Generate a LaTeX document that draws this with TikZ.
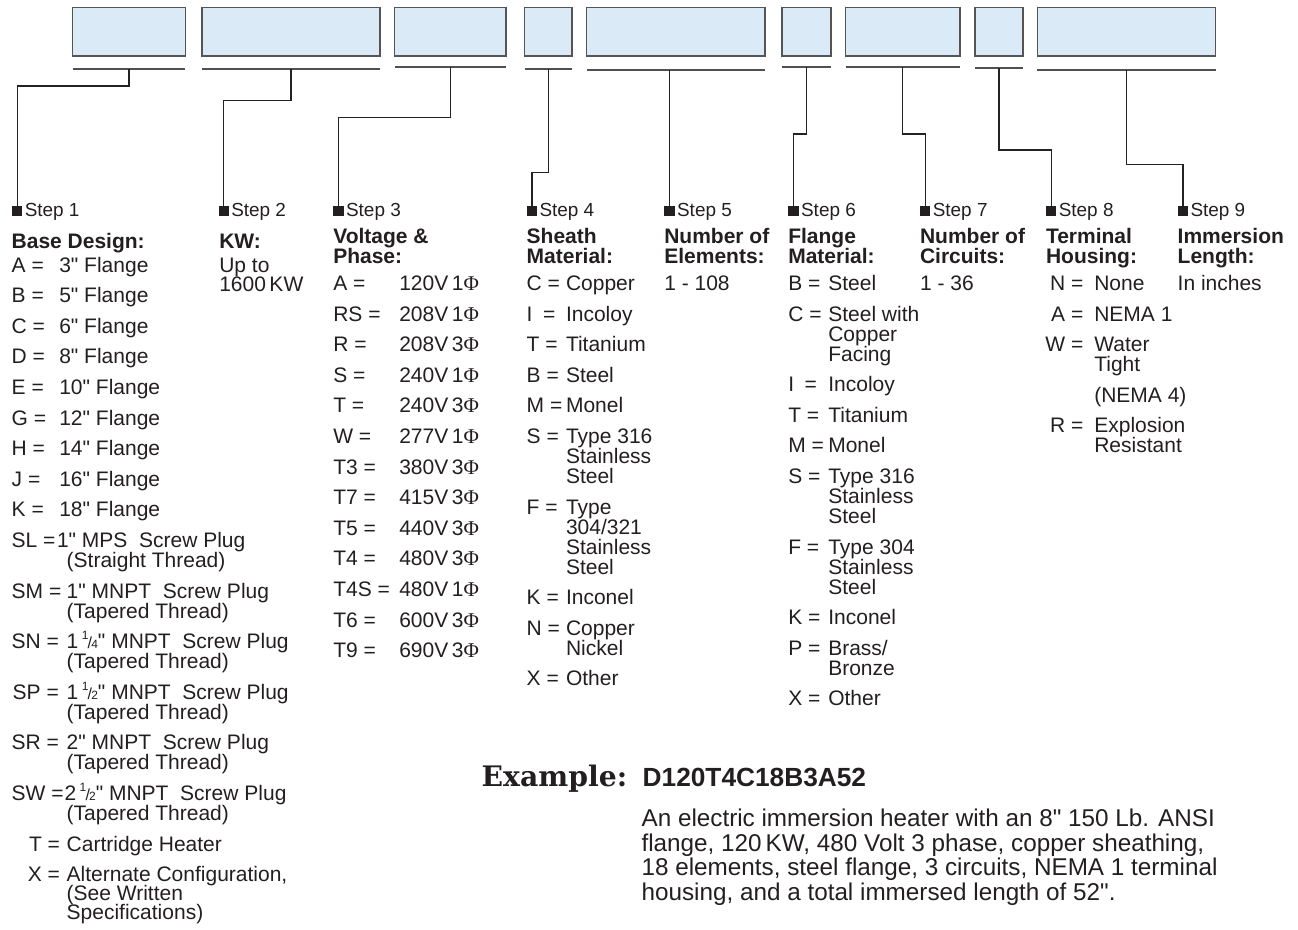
\documentclass[tikz,border=0pt]{standalone}
\usepackage{fontspec}
\setmainfont{Liberation Sans}[Ligatures=TeXOff]
\newfontfamily\phifont{Liberation Serif}
\newfontfamily\slabfont{DejaVu Serif}
\usetikzlibrary{calc}
\definecolor{boxfill}{RGB}{218,234,247}
\definecolor{boxline}{RGB}{85,85,85}
\definecolor{ulinec}{RGB}{80,80,80}
\definecolor{connc}{RGB}{35,35,35}
\definecolor{txtc}{RGB}{35,31,32}
\newcommand\fitem{\fontsize{15.75pt}{15.75pt}\selectfont}
\newcommand\fstep{\fontsize{14.2pt}{14.2pt}\selectfont}
\newcommand\fpara{\fontsize{18.2pt}{18.2pt}\selectfont}
\newcommand\Ph{{\phifont Φ}}
\newcommand\myfr[2]{\raisebox{0.42em}{\fontsize{9pt}{9pt}\selectfont #1}\kern-0.04em{\fontsize{12pt}{12pt}\selectfont /}\kern-0.04em{\fontsize{9pt}{9pt}\selectfont #2}}
\tikzset{
  box/.style={draw=boxline, fill=boxfill, line width=1.1pt, inner sep=0pt, outer sep=0pt, anchor=north west},
  uline/.style={draw=ulinec, line width=1.5pt},
  conn/.style={draw=connc, line width=0.9pt},
  sq/.style={fill=txtc, inner sep=0pt, outer sep=0pt, minimum size=7.8pt, anchor=south west},
  t/.style={anchor=base west, inner sep=0pt, outer sep=0pt, font=\fitem, text=txtc},
  te/.style={t, anchor=base east},
  h/.style={t, font=\fitem\bfseries},
  st/.style={t, font=\fstep},
  p/.style={t, font=\fpara},
}
\newcommand\bx[3]{\node[box, minimum width={(#3-#2)*0.75pt}, minimum height={48.5*0.75pt}] (#1) at (#2,7.5) {};}
\newcommand\ul[4]{\coordinate (#1l) at (#2,#4); \coordinate (#1r) at (#3,#4); \draw[uline] (#1l) -- (#1r); \coordinate (#1) at ($(#1l)!0.5!(#1r)$);}
\newcommand\stp[2]{\node[sq] (s#1) at (#2,216) {}; \node[st] (st#1) at (#2+12.8,216) {Step #1};}
\newcommand\kvl[6]{\node[t] (#1k) at (#2,#4) {#5}; \node[t] (#1v) at (#3,#4) {#6};}
\newcommand\kvr[6]{\node[te] (#1k) at (#2,#4) {#5}; \node[t] (#1v) at (#3,#4) {#6};}
\newcommand\txl[4]{\node[t] (#1) at (#2,#3) {#4};}
\begin{document}
\begin{tikzpicture}[x=0.75pt,y=-0.75pt]
\useasboundingbox (0,0) rectangle (1298,929);
% boxes
\bx{b1}{72.7}{185.3}
\bx{b2}{202}{380}
\bx{b3}{394.7}{505.8}
\bx{b4}{524.5}{572}
\bx{b5}{586.7}{765}
\bx{b6}{781.8}{831}
\bx{b7}{845.6}{959.8}
\bx{b8}{975}{1023}
\bx{b9}{1037.4}{1215.7}
% underlines
\ul{u1}{72.7}{185.3}{69}
\ul{u2}{202}{380}{69}
\ul{u3}{394.7}{505.8}{67}
\ul{u4}{524.5}{572}{69}
\ul{u5}{586.7}{765}{70}
\ul{u6}{781.8}{831}{67}
\ul{u7}{845.6}{959.8}{67}
\ul{u8}{975}{1023}{67.7}
\ul{u9}{1037.4}{1215.7}{70}
% steps
\stp{1}{12}
\stp{2}{218.5}
\stp{3}{333.3}
\stp{4}{526.7}
\stp{5}{664.3}
\stp{6}{788.3}
\stp{7}{920}
\stp{8}{1046}
\stp{9}{1177.7}
% connectors
\draw[conn] (u1) -- ++(0,17) -| (s1.north);
\draw[conn] (u2) -- ++(0,31.7) -| (s2.north);
\draw[conn] (u3) -- ++(0,50.3) -| (s3.north);
\draw[conn] (u4) -- ++(0,103.3) -| (s4.north);
\draw[conn] (s5.north |- u5l) -- (s5.north);
\draw[conn] (u6) -- ++(0,67) -| (s6.north);
\draw[conn] (u7) -- ++(0,67) -| (s7.north);
\draw[conn] (u8) -- ++(0,82.3) -| (s8.north);
\draw[conn] (u9) -- ++(0,94.3) -| (s9.north);
% column 1
\node[h] (h1) at (11.7,248) {Base Design:};
\kvl{a1}{11.7}{59.3}{272}{A =}{3" Flange}
\kvl{a2}{11.7}{59.3}{302.6}{B =}{5" Flange}
\kvl{a3}{11.7}{59.3}{333.2}{C =}{6" Flange}
\kvl{a4}{11.7}{59.3}{363.8}{D =}{8" Flange}
\kvl{a5}{11.7}{59.3}{394.4}{E =}{10" Flange}
\kvl{a6}{11.7}{59.3}{425}{G =}{12" Flange}
\kvl{a7}{11.7}{59.3}{455.6}{H =}{14" Flange}
\kvl{a8}{11.7}{59.3}{486.2}{J =}{16" Flange}
\kvl{a9}{11.7}{59.3}{516.8}{K =}{18" Flange}
\kvl{a10}{11.7}{57}{547.4}{SL =}{1" MPS\ \ Screw Plug}
\txl{a10b}{66.7}{567.4}{(Straight Thread)}
\kvl{a11}{11.7}{66.7}{598}{SM =}{1" MNPT\ \ Screw Plug}
\txl{a11b}{66.7}{618}{(Tapered Thread)}
\kvl{a12}{11.7}{66.7}{648.6}{SN =}{1\,\myfr{1}{4}" MNPT\ \ Screw Plug}
\txl{a12b}{66.7}{668.6}{(Tapered Thread)}
\kvl{a13}{12.7}{66.7}{699.2}{SP =}{1\,\myfr{1}{2}" MNPT\ \ Screw Plug}
\txl{a13b}{66.7}{719.2}{(Tapered Thread)}
\kvl{a14}{11.7}{66.7}{749.8}{SR =}{2" MNPT\ \ Screw Plug}
\txl{a14b}{66.7}{769.8}{(Tapered Thread)}
\kvl{a15}{11.7}{64.5}{800.4}{SW =}{2\,\myfr{1}{2}" MNPT\ \ Screw Plug}
\txl{a15b}{66.7}{820.4}{(Tapered Thread)}
\kvr{a16}{60}{66.7}{851}{T =}{Cartridge Heater}
\kvr{a17}{60}{66.7}{881.6}{X =}{Alternate Configuration,}
\txl{a17b}{66.7}{900.6}{(See Written}
\txl{a17c}{66.7}{919.6}{Specifications)}
% column 2
\node[h] (h2) at (219.3,248) {KW:};
\txl{k1}{219.3}{272}{Up to}
\txl{k2}{219.3}{291.5}{1600\,KW}
% column 3
\node[h] (h3a) at (333.3,243.5) {Voltage \&};
\node[h] (h3b) at (333.3,263.5) {Phase:};
\kvl{v1}{333.3}{399.3}{290.5}{A =}{120V\,1\Ph}
\kvl{v2}{333.3}{399.3}{321.1}{RS =}{208V\,1\Ph}
\kvl{v3}{333.3}{399.3}{351.7}{R =}{208V\,3\Ph}
\kvl{v4}{333.3}{399.3}{382.3}{S =}{240V\,1\Ph}
\kvl{v5}{333.3}{399.3}{412.9}{T =}{240V\,3\Ph}
\kvl{v6}{333.3}{399.3}{443.5}{W =}{277V\,1\Ph}
\kvl{v7}{333.3}{399.3}{474.1}{T3 =}{380V\,3\Ph}
\kvl{v8}{333.3}{399.3}{504.7}{T7 =}{415V\,3\Ph}
\kvl{v9}{333.3}{399.3}{535.3}{T5 =}{440V\,3\Ph}
\kvl{v10}{333.3}{399.3}{565.9}{T4 =}{480V\,3\Ph}
\kvl{v11}{333.3}{399.3}{596.5}{T4S =}{480V\,1\Ph}
\kvl{v12}{333.3}{399.3}{627.1}{T6 =}{600V\,3\Ph}
\kvl{v13}{333.3}{399.3}{657.7}{T9 =}{690V\,3\Ph}
% column 4
\node[h] (h4a) at (526.7,243.5) {Sheath};
\node[h] (h4b) at (526.7,263.5) {Material:};
\kvl{m1}{526.7}{566}{290.5}{C =}{Copper}
\kvl{m2}{526.7}{566}{321.1}{I\enspace=}{Incoloy}
\kvl{m3}{526.7}{566}{351.7}{T =}{Titanium}
\kvl{m4}{526.7}{566}{382.3}{B =}{Steel}
\kvl{m5}{526.7}{566}{412.9}{M =}{Monel}
\kvl{m6}{526.7}{566}{443.5}{S =}{Type 316}
\txl{m6b}{566}{463.5}{Stainless}
\txl{m6c}{566}{483.5}{Steel}
\kvl{m7}{526.7}{566}{514.1}{F =}{Type}
\txl{m7b}{566}{534.1}{304/321}
\txl{m7c}{566}{554.1}{Stainless}
\txl{m7d}{566}{574.1}{Steel}
\kvl{m8}{526.7}{566}{604.7}{K =}{Inconel}
\kvl{m9}{526.7}{566}{635.3}{N =}{Copper}
\txl{m9b}{566}{655.3}{Nickel}
\kvl{m10}{526.7}{566}{685.9}{X =}{Other}
% column 5
\node[h] (h5a) at (664.3,243.5) {Number of};
\node[h] (h5b) at (664.3,263.5) {Elements:};
\txl{e1}{664.3}{290.5}{1 - 108}
% column 6
\node[h] (h6a) at (788.3,243.5) {Flange};
\node[h] (h6b) at (788.3,263.5) {Material:};
\kvl{f1}{788.3}{828.3}{290.5}{B =}{Steel}
\kvl{f2}{788.3}{828.3}{321.1}{C =}{Steel with}
\txl{f2b}{828.3}{341.1}{Copper}
\txl{f2c}{828.3}{361.1}{Facing}
\kvl{f3}{788.3}{828.3}{391.7}{I\enspace=}{Incoloy}
\kvl{f4}{788.3}{828.3}{422.3}{T =}{Titanium}
\kvl{f5}{788.3}{828.3}{452.9}{M =}{Monel}
\kvl{f6}{788.3}{828.3}{483.5}{S =}{Type 316}
\txl{f6b}{828.3}{503.5}{Stainless}
\txl{f6c}{828.3}{523.5}{Steel}
\kvl{f7}{788.3}{828.3}{554.1}{F =}{Type 304}
\txl{f7b}{828.3}{574.1}{Stainless}
\txl{f7c}{828.3}{594.1}{Steel}
\kvl{f8}{788.3}{828.3}{624.7}{K =}{Inconel}
\kvl{f9}{788.3}{828.3}{655.3}{P =}{Brass/}
\txl{f9b}{828.3}{675.3}{Bronze}
\kvl{f10}{788.3}{828.3}{705.9}{X =}{Other}
% column 7
\node[h] (h7a) at (920,243.5) {Number of};
\node[h] (h7b) at (920,263.5) {Circuits:};
\txl{c1}{920}{290.5}{1 - 36}
% column 8
\node[h] (h8a) at (1046,243.5) {Terminal};
\node[h] (h8b) at (1046,263.5) {Housing:};
\kvr{n1}{1083.3}{1094.3}{290.5}{N =}{None}
\kvr{n2}{1083.3}{1094.3}{321.1}{A =}{NEMA 1}
\kvr{n3}{1083.3}{1094.3}{351.7}{W =}{Water}
\txl{n3b}{1094.3}{371.7}{Tight}
\txl{n3c}{1094.3}{402.3}{(NEMA 4)}
\kvr{n4}{1083.3}{1094.3}{432.9}{R =}{Explosion}
\txl{n4b}{1094.3}{452.9}{Resistant}
% column 9
\node[h] (h9a) at (1177.7,243.5) {Immersion};
\node[h] (h9b) at (1177.7,263.5) {Length:};
\txl{i1}{1177.7}{290.5}{In inches}
% example
\node[t, font=\slabfont\bfseries\fontsize{21.2pt}{21.2pt}\selectfont] (ex) at (481.7,786.7) {Example:};
\node[t, font=\bfseries\fontsize{19.7pt}{19.7pt}\selectfont] (code) at (642.7,786.7) {D120T4C18B3A52};
\node[p] (p1) at (641.6,826.2) {An electric immersion heater with an 8" 150 Lb. ANSI};
\node[p] (p2) at (641.6,851) {flange, 120\,KW, 480 Volt 3 phase, copper sheathing,};
\node[p] (p3) at (641.6,875.8) {18 elements, steel flange, 3 circuits, NEMA 1 terminal};
\node[p] (p4) at (641.6,900.6) {housing, and a total immersed length of 52".};
\end{tikzpicture}
\end{document}
